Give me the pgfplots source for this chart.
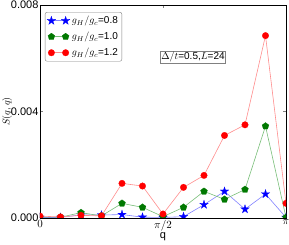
\documentclass[border=0pt]{standalone}
\usepackage{fontspec}
\setmainfont{Liberation Sans}
\usepackage{pgfplots}
\pgfplotsset{compat=1.18}
\usetikzlibrary{plotmarks}
\pgfdeclareplotmark{fstar}{%
  \pgfpathmoveto{\pgfpointpolar{90}{\pgfplotmarksize}}%
  \pgfpathlineto{\pgfpointpolar{126}{0.382*\pgfplotmarksize}}%
  \pgfpathlineto{\pgfpointpolar{162}{\pgfplotmarksize}}%
  \pgfpathlineto{\pgfpointpolar{198}{0.382*\pgfplotmarksize}}%
  \pgfpathlineto{\pgfpointpolar{234}{\pgfplotmarksize}}%
  \pgfpathlineto{\pgfpointpolar{270}{0.382*\pgfplotmarksize}}%
  \pgfpathlineto{\pgfpointpolar{306}{\pgfplotmarksize}}%
  \pgfpathlineto{\pgfpointpolar{342}{0.382*\pgfplotmarksize}}%
  \pgfpathlineto{\pgfpointpolar{18}{\pgfplotmarksize}}%
  \pgfpathlineto{\pgfpointpolar{54}{0.382*\pgfplotmarksize}}%
  \pgfpathclose
  \pgfusepathqfillstroke}
\definecolor{lblue}{RGB}{130,130,255}
\definecolor{lgreen}{RGB}{120,190,120}
\definecolor{lred}{RGB}{255,140,140}
\definecolor{mgreen}{RGB}{0,120,0}
\begin{document}
\begin{tikzpicture}
\path[use as bounding box] (-40pt,-27pt) rectangle (249pt,218pt);
\begin{axis}[
  scale only axis, width=246pt, height=213pt,
  at={(0,0)}, anchor=south west,
  xmin=0, xmax=12, ymin=0, ymax=0.008,
  xtick={0,6,12}, xticklabels={$0$,$\pi/2$,$\pi$},
  ytick={0,0.004,0.008}, yticklabels={0.000,0.004,0.008},
  scaled y ticks=false,
  tick align=inside, major tick length=3pt,
  tick label style={font=\fontsize{11}{13}\selectfont},
  xticklabel style={yshift=1.5pt},
  yticklabel style={xshift=2pt},
  xlabel={q}, ylabel={$S(q,q)$},
  xlabel style={font=\fontsize{11}{13}\selectfont, at={(axis description cs:0.5,-0.088)}, anchor=center},
  ylabel style={font=\fontsize{10}{12}\selectfont, at={(axis description cs:-0.134,0.5)}, anchor=center},
  axis line style={line width=0.8pt},
  clip marker paths=true,
  legend cell align=left,
  legend style={at={(rel axis cs:0.02,0.967)}, anchor=north west,
    font=\fontsize{10}{12}\selectfont, draw=gray, rounded corners=2pt,
    row sep=3pt, inner sep=2pt},
  legend image code/.code={\draw[#1] plot coordinates {(0cm,0cm)(0.5cm,0cm)};},
]
\addplot[lblue, line width=0.6pt, mark=fstar, mark size=4.5pt,
  mark options={fill=blue, draw=blue, line width=0.2pt}]
  coordinates {(0,0.00002)(1,0.00002)(2,0.00012)(3,0.00011)(4,0.00013)(5,0.00003)(6,0.00002)(7,0.00005)(8,0.0005)(9,0.001)(10,0.00033)(11,0.0009)(12,0.00002)};
\addlegendentry{$g_H/g_c$=0.8}
\addplot[lgreen, line width=0.6pt, mark=pentagon*, mark size=3.6pt,
  mark options={fill=mgreen, draw=mgreen, line width=0.2pt}]
  coordinates {(0,0.00003)(1,0.00003)(2,0.0002)(3,0.00008)(4,0.00055)(5,0.0004)(6,0.00005)(7,0.0004)(8,0.001)(9,0.0007)(10,0.00107)(11,0.00345)(12,0.00002)};
\addlegendentry{$g_H/g_c$=1.0}
\addplot[lred, line width=0.6pt, mark=*, mark size=3.3pt,
  mark options={fill=red, draw=red, line width=0.2pt}]
  coordinates {(0,0.00007)(1,0.00004)(2,0.0001)(3,0.00008)(4,0.0013)(5,0.0012)(6,0.00015)(7,0.00115)(8,0.0016)(9,0.0031)(10,0.0035)(11,0.00685)(12,0.00055)};
\addlegendentry{$g_H/g_c$=1.2}
\node[draw=gray, inner sep=1pt, font=\fontsize{10}{12}\selectfont] at (rel axis cs:0.622,0.756) {$\Delta/t$=0.5,$L$=24};
\end{axis}
\end{tikzpicture}
\end{document}
